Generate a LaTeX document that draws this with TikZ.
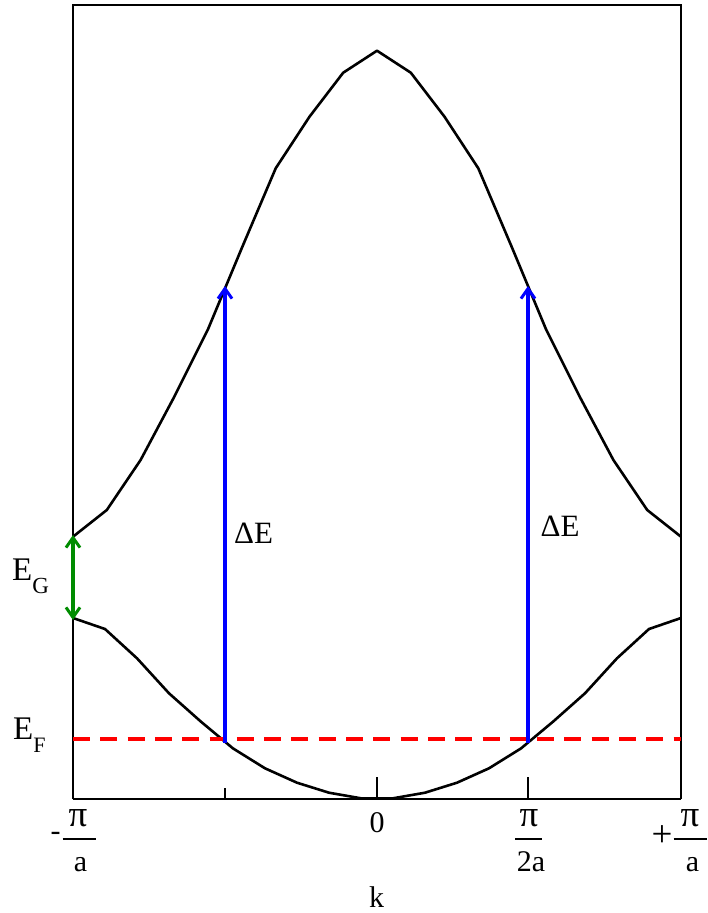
\documentclass[tikz,border=0pt]{standalone}
\usepackage{fontspec}
\setmainfont{Liberation Serif}
\usetikzlibrary{arrows.meta}
\definecolor{gapgreen}{RGB}{0,140,0}
\begin{document}
\begin{tikzpicture}[x=1pt,y=-1pt,
  frameline/.style={line width=2pt,black},
  axisline/.style={line width=2.8pt,black},
  band/.style={line width=2.6pt,black,line join=round},
  tickline/.style={line width=2pt,black},
  trans/.style={blue,line width=3.6pt,-{Straight Barb[length=10pt,width=14pt,line width=3pt]}},
  gaparrow/.style={gapgreen,line width=3.4pt,{Straight Barb[length=10pt,width=14pt,line width=3pt]}-{Straight Barb[length=10pt,width=14pt,line width=3pt]}},
  fermi/.style={red,line width=3.6pt,dash pattern=on 17pt off 10.3pt},
  lbl/.style={inner sep=0pt,font=\fontsize{31}{31}\selectfont},
  biglbl/.style={inner sep=0pt,font=\fontsize{33}{33}\selectfont},
  axlbl/.style={inner sep=0pt,font=\fontsize{30}{30}\selectfont},
  pilbl/.style={inner sep=0pt,font=\fontsize{37}{37}\selectfont},
  fracbar/.style={line width=1.6pt,black}]
\useasboundingbox (0,0) rectangle (708,913);
% frame
\coordinate (tl) at (73,5);
\coordinate (tr) at (681,5);
\coordinate (bl) at (73,799);
\coordinate (br) at (681,799);
\draw[frameline] (bl) -- (tl) -- (tr) -- (br);
\draw[axisline] (bl) -- (br);
% ticks
\draw[tickline] (73,799) -- (73,777);
\draw[tickline] (225,799) -- (225,788);
\draw[tickline] (377,799) -- (377,777);
\draw[tickline] (528,799) -- (528,777);
\draw[tickline] (681,799) -- (681,777);
% upper band
\draw[band] (73,536.7) -- (106.8,510) -- (140.6,460) -- (174.3,396.7) -- (208.1,329) -- (241.9,247.8) -- (275.7,168.3) -- (309.5,116.7) -- (343.2,72.7) -- (377,50.7) -- (410.8,72.7) -- (444.5,116.7) -- (478.3,168.3) -- (512.1,247.8) -- (545.9,329) -- (579.7,396.7) -- (613.4,460) -- (647.2,510) -- (681,536.7);
% lower band
\draw[band] (73,618) -- (105,629) -- (137,658.3) -- (169,693.3) -- (201,721.7) -- (233,748.4) -- (265,768.3) -- (297,782.7) -- (329,792.7) -- (361,798.3) -- (393,798.3) -- (425,792.7) -- (457,782.7) -- (489,768.3) -- (521,748.4) -- (553,721.7) -- (585,693.3) -- (617,658.3) -- (649,629) -- (681,618);
% Fermi level
\coordinate (efl) at (73,739);
\coordinate (efr) at (681,739);
\draw[fermi] (efl) -- (efr);
% transitions
\coordinate (t1a) at (225,743);
\coordinate (t1b) at (225,286);
\coordinate (t2a) at (528,743);
\coordinate (t2b) at (528,286);
\draw[trans] (t1a) -- (t1b);
\draw[trans] (t2a) -- (t2b);
% gap
\coordinate (g1) at (73,535);
\coordinate (g2) at (73,620);
\draw[gaparrow] (g1) -- (g2);
% labels
\node[lbl,anchor=base west] (de1) at (234,543.3) {ΔE};
\node[lbl,anchor=base west] (de2) at (540.5,536.7) {ΔE};
\node[biglbl,anchor=base west] (eg) at (12,580) {E\raisebox{-13pt}{\fontsize{23}{23}\selectfont G}};
\node[biglbl,anchor=base west] (ef) at (13,739) {E\raisebox{-13pt}{\fontsize{22}{22}\selectfont F}};
% k axis labels
\node[axlbl,anchor=center] (m1) at (55.5,836.5) {-};
\node[pilbl,anchor=base] (p1) at (78,826) {π};
\node[axlbl,anchor=base] (a1) at (80.5,871) {a};
\draw[fracbar] (62.6,839) -- (95.6,839);
\node[axlbl,anchor=base] (zero) at (377,832.7) {0};
\node[pilbl,anchor=base] (p2) at (529,826) {π};
\node[axlbl,anchor=base] (a2) at (531,871) {2a};
\draw[fracbar] (515,839) -- (542,839);
\node[pilbl,anchor=center] (pl) at (662,836.5) {+};
\node[pilbl,anchor=base] (p3) at (690,826) {π};
\node[axlbl,anchor=base] (a3) at (692.6,871) {a};
\draw[fracbar] (673.5,839) -- (707,839);
\node[axlbl,anchor=base] (k) at (376.5,907) {k};
\end{tikzpicture}
\end{document}
